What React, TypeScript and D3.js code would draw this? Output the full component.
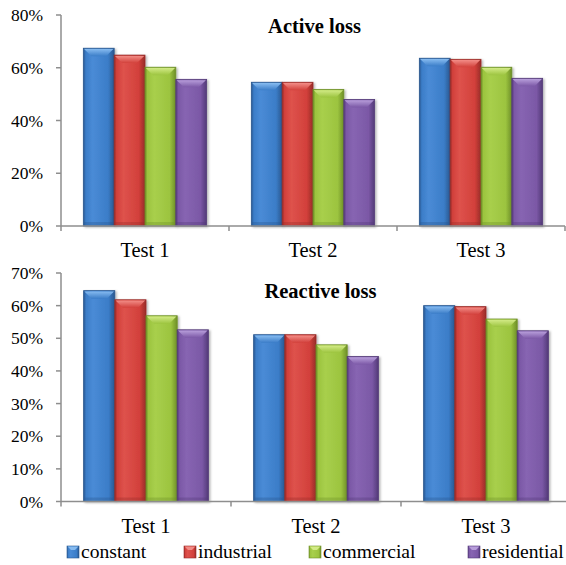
import React from "react";
import * as d3 from "d3";

const categories = ["Test 1", "Test 2", "Test 3"];
const seriesNames = ["constant", "industrial", "commercial", "residential"];

const activeConstant = [67.4, 54.5, 63.6];
const activeIndustrial = [64.8, 54.5, 63.2];
const activeCommercial = [60.2, 51.8, 60.2];
const activeResidential = [55.6, 48.0, 56.0];

const reactiveConstant = [64.6, 51.1, 60.0];
const reactiveIndustrial = [61.8, 51.1, 59.7];
const reactiveCommercial = [56.9, 48.0, 55.9];
const reactiveResidential = [52.6, 44.4, 52.3];

const activeTicks = [0, 20, 40, 60, 80];
const reactiveTicks = [0, 10, 20, 30, 40, 50, 60, 70];

const palette = [
  { base: "#3B7DC8", hi: "#4A8BD6", light: "#86BBF0", dark: "#29578F" },
  { base: "#D2403B", hi: "#DE524C", light: "#F28C86", dark: "#982B28" },
  { base: "#9CC43F", hi: "#A8CF4C", light: "#D2EA86", dark: "#6E8F27" },
  { base: "#7B58A6", hi: "#8765B2", light: "#B79DDA", dark: "#533A78" },
];

const FONT = "Liberation Serif";
const AXIS = "#8E8E8E";

function Bar({ x, y, w, h, i }: { x: number; y: number; w: number; h: number; i: number }) {
  const bev = Math.min(8, h / 2);
  const ins = Math.min(8, w / 3);
  return (
    <g filter="url(#shadow)">
      <rect x={x} y={y} width={w} height={h} fill={`url(#hg${i})`} stroke={palette[i].dark} strokeWidth={0.8} />
      <polygon
        points={`${x + 0.8},${y + 0.8} ${x + w - 0.8},${y + 0.8} ${x + w - ins},${y + bev} ${x + ins},${y + bev}`}
        fill={`url(#vg${i})`}
      />
      <rect x={x + 0.8} y={y + h - 4} width={w - 1.6} height={3.2} fill={palette[i].dark} opacity={0.35} />
    </g>
  );
}

function Panel(props: {
  title: string;
  series: number[][];
  ticks: number[];
  yTop: number;
  yBottom: number;
  xStart: number;
  xEnd: number;
  titleX: number;
  titleBaseline: number;
  labelBaseline: number;
}) {
  const { title, series, ticks, yTop, yBottom, xStart, xEnd, titleX, titleBaseline, labelBaseline } = props;
  const yMax = ticks[ticks.length - 1];
  const y = d3.scaleLinear().domain([0, yMax]).range([yBottom, yTop]);
  const x0 = d3.scaleBand<string>().domain(categories).range([xStart, xEnd]).padding(0);
  const bw = x0.bandwidth();
  const gapRatio = 1.45;
  const cluster = (bw * 4) / (4 + gapRatio);
  const x1 = d3.scaleBand<string>().domain(seriesNames).range([0, cluster]).padding(0);
  const off = (bw - cluster) / 2;
  return (
    <g>
      <text x={titleX} y={titleBaseline} textAnchor="middle" style={{ fontFamily: FONT, fontWeight: "bold" }} fontSize={20.5} fill="#000">
        {title}
      </text>
      {categories.map((c, ci) =>
        series.map((vals, si) => {
          const bx = (x0(c) as number) + off + (x1(seriesNames[si]) as number);
          const by = y(vals[ci]);
          return <Bar key={`${ci}-${si}`} x={bx} y={by} w={x1.bandwidth()} h={yBottom - by} i={si} />;
        })
      )}
      <line x1={xStart} x2={xStart} y1={yTop} y2={yBottom} stroke={AXIS} strokeWidth={1.5} />
      {ticks.map((t) => (
        <g key={t}>
          <line x1={xStart - 5} x2={xStart} y1={y(t)} y2={y(t)} stroke={AXIS} strokeWidth={1.5} />
          <text x={43} y={y(t) + 6} textAnchor="end" style={{ fontFamily: FONT }} fontSize={17.5} fill="#000">
            {`${t}%`}
          </text>
        </g>
      ))}
      <line x1={xStart} x2={xEnd} y1={yBottom} y2={yBottom} stroke={AXIS} strokeWidth={1.5} />
      {categories.map((c) => (
        <line key={c} x1={x0(c) as number} x2={x0(c) as number} y1={yBottom} y2={yBottom + 5} stroke={AXIS} strokeWidth={1.5} />
      ))}
      <line x1={xEnd} x2={xEnd} y1={yBottom} y2={yBottom + 5} stroke={AXIS} strokeWidth={1.5} />
      {categories.map((c) => (
        <text key={c} x={(x0(c) as number) + bw / 2} y={labelBaseline} textAnchor="middle" style={{ fontFamily: FONT }} fontSize={20.5} fill="#000">
          {c}
        </text>
      ))}
    </g>
  );
}

const legendMarkerX = [67, 184, 309, 468];

export default function App() {
  return (
    <svg width={566} height={565} style={{ position: "absolute", left: 0, top: 0, background: "#fff" }}>
      <defs>
        <filter id="shadow" x="-20%" y="-5%" width="140%" height="115%">
          <feDropShadow dx={1.5} dy={1} stdDeviation={1.2} floodColor="#000" floodOpacity={0.3} />
        </filter>
        {palette.map((p, i) => (
          <linearGradient key={`h${i}`} id={`hg${i}`} x1="0" x2="1" y1="0" y2="0">
            <stop offset="0%" stopColor={p.dark} />
            <stop offset="8%" stopColor={p.base} />
            <stop offset="30%" stopColor={p.hi} />
            <stop offset="80%" stopColor={p.base} />
            <stop offset="100%" stopColor={p.dark} />
          </linearGradient>
        ))}
        {palette.map((p, i) => (
          <linearGradient key={`v${i}`} id={`vg${i}`} x1="0" x2="0" y1="0" y2="1">
            <stop offset="0%" stopColor={p.light} />
            <stop offset="100%" stopColor={p.base} />
          </linearGradient>
        ))}
      </defs>
      <Panel
        title="Active loss"
        series={[activeConstant, activeIndustrial, activeCommercial, activeResidential]}
        ticks={activeTicks}
        yTop={15}
        yBottom={226}
        xStart={61}
        xEnd={565}
        titleX={314.5}
        titleBaseline={33}
        labelBaseline={256.5}
      />
      <Panel
        title="Reactive loss"
        series={[reactiveConstant, reactiveIndustrial, reactiveCommercial, reactiveResidential]}
        ticks={reactiveTicks}
        yTop={273}
        yBottom={501.5}
        xStart={61}
        xEnd={571}
        titleX={320.5}
        titleBaseline={298}
        labelBaseline={532.5}
      />
      {seriesNames.map((s, i) => {
        const mx = legendMarkerX[i];
        return (
          <g key={s}>
            <rect x={mx} y={546} width={12} height={12} fill={`url(#hg${i})`} stroke={palette[i].dark} strokeWidth={0.6} />
            <polygon points={`${mx + 0.6},${546.6} ${mx + 11.4},${546.6} ${mx + 8},${550} ${mx + 4},${550}`} fill={palette[i].light} />
            <text x={mx + 14} y={558} style={{ fontFamily: FONT }} fontSize={19.6} fill="#000">
              {s}
            </text>
          </g>
        );
      })}
    </svg>
  );
}
